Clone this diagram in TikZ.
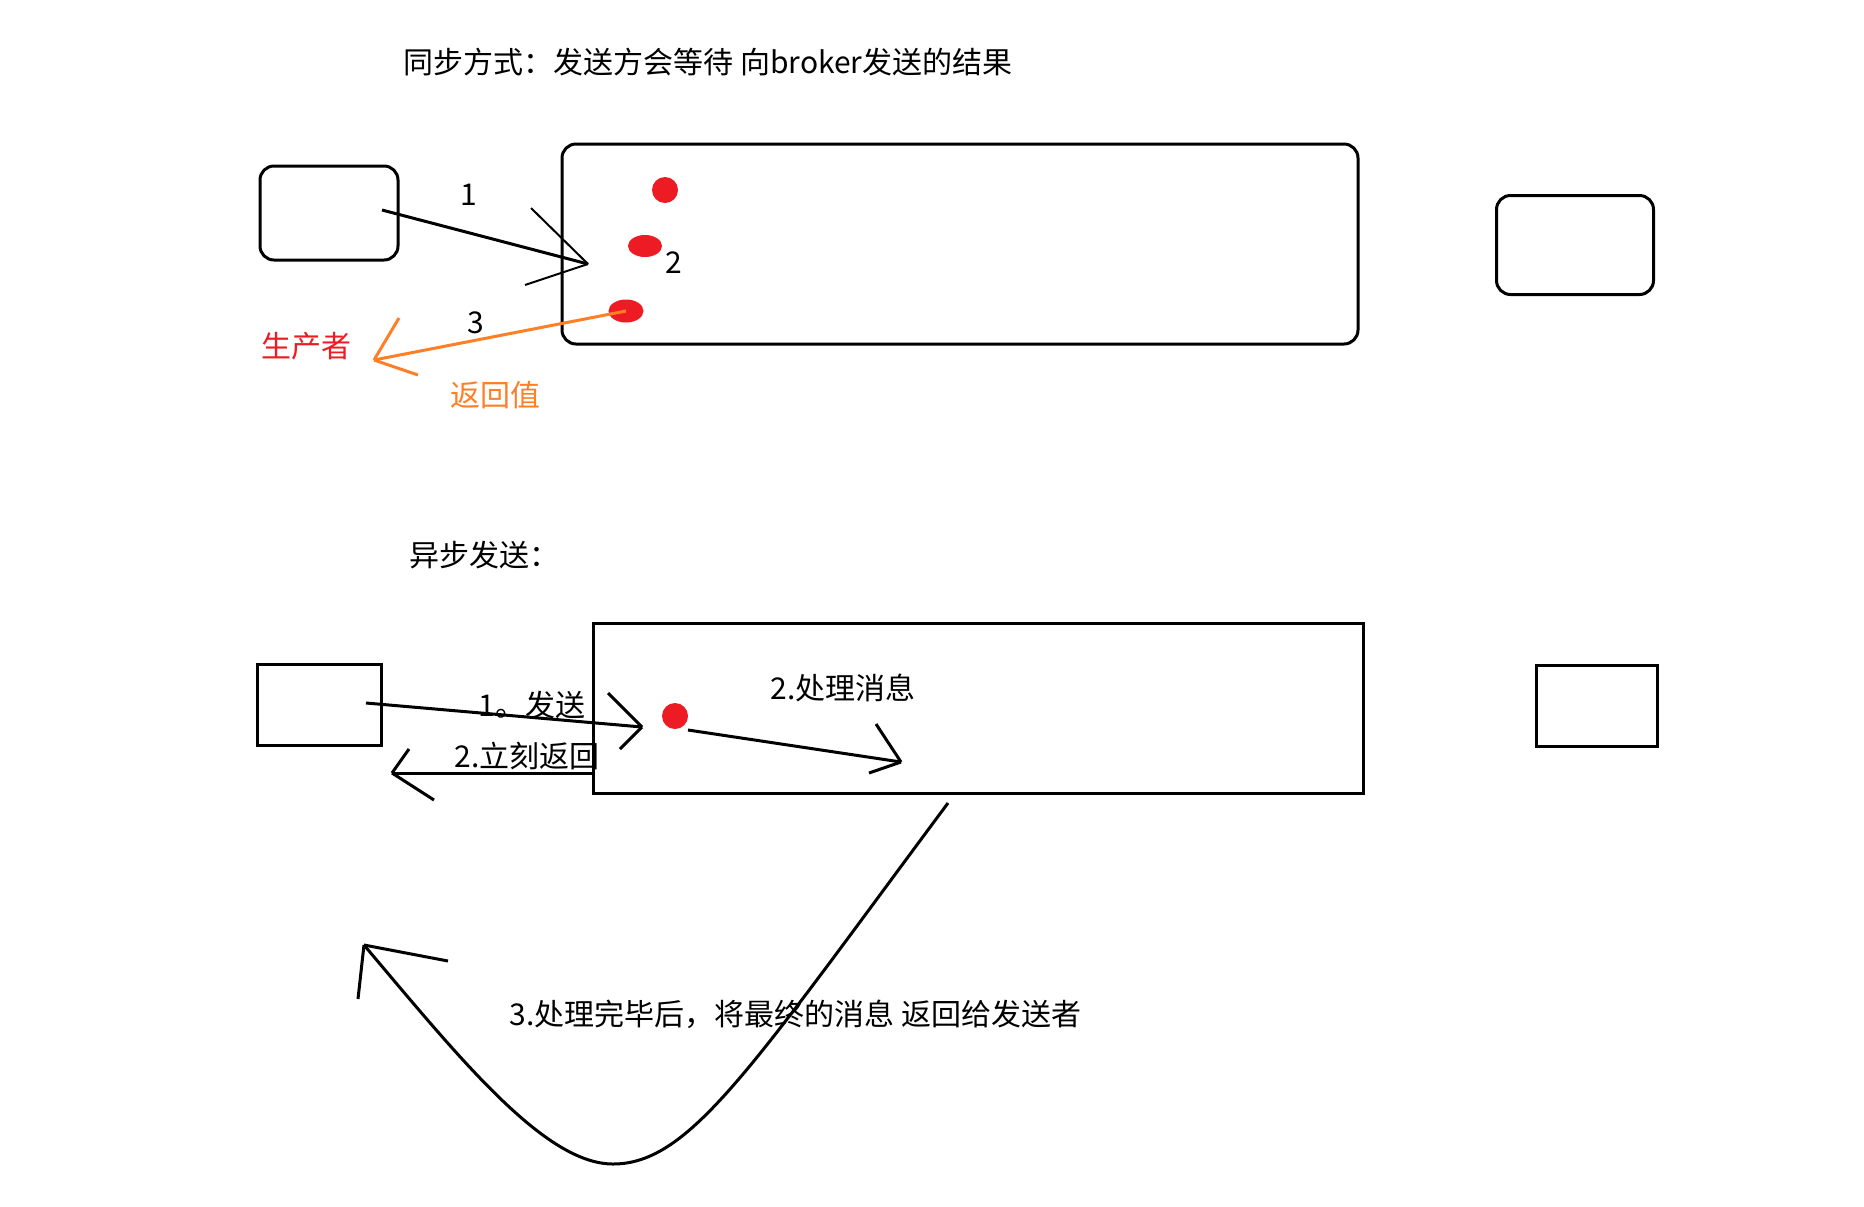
\documentclass[tikz,border=0pt]{standalone}
\usepackage{fontspec}
\setmainfont{Noto Sans CJK SC}
\usepackage{tikz}
\usetikzlibrary{positioning, shapes.geometric}
\definecolor{dotred}{RGB}{237,28,36}
\definecolor{retorange}{RGB}{255,127,39}

\begin{document}
\begin{tikzpicture}[x=0.5pt, y=-0.5pt, line width=1.5pt,
    rbox/.style={draw, rounded corners=7pt, inner sep=0pt},
    pbox/.style={draw, inner sep=0pt},
    msg/.style={circle, fill=dotred, inner sep=0pt},
    txt/.style={font=\fontsize{15}{18}\selectfont, inner sep=0pt}]
      \useasboundingbox (0,0) rectangle (1864,1206);

      % Sincrono
      \node[txt, anchor=west] (titleA) at (402,62) {同步方式：发送方会等待 向broker发送的结果};
      \node[rbox, minimum width=69pt, minimum height=47pt] (prodA) at (329,213) {};
      \node[rbox, minimum width=398pt, minimum height=100pt] (brokerA) at (960,244) {};
      \node[rbox, minimum width=78.5pt, minimum height=49.5pt] (consA) at (1575,245) {};
      \node[msg, minimum size=13pt] (mA1) at (665,190) {};
      \node[msg, ellipse, minimum width=17pt, minimum height=11pt] (mA2) at (645,246) {};
      \node[msg, ellipse, minimum width=17.5pt, minimum height=11.5pt] (mA3) at (626,311) {};

      \coordinate (sA) at (382,210);
      \coordinate (tA) at (588,264);
      \coordinate (rA) at (374,360);
      \draw (sA) -- (tA);
      \draw[line width=1pt] (tA) -- +(-57,-56) (tA) -- +(-63,21);
      \draw[retorange] (mA3.center) -- (rA);
      \draw[retorange] (rA) -- +(25,-42) (rA) -- +(44,15);

      \node[txt] (n1) at (469,195) {1};
      \node[txt] (n2) at (674,263) {2};
      \node[txt] (n3) at (476,323) {3};
      \node[txt, text=dotred] (prod) at (306,346) {生产者};
      \node[txt, text=retorange] (retval) at (495,395) {返回值};

      % Asincrono
      \node[txt, anchor=west] (titleB) at (408,555) {异步发送：};
      \node[pbox, minimum width=62pt, minimum height=40.5pt] (prodB) at (319,705) {};
      \node[pbox, minimum width=385pt, minimum height=85pt] (brokerB) at (978,708) {};
      \node[pbox, minimum width=60.5pt, minimum height=40.5pt] (consB) at (1597,706) {};
      \node[msg, minimum size=13pt] (mB) at (675,716) {};

      \coordinate (sB) at (366,703);
      \coordinate (tB) at (642,727);
      \coordinate (sP) at (688,730);
      \coordinate (tP) at (901,762);
      \coordinate (rB) at (392,773);
      \draw (sB) -- (tB);
      \draw (tB) -- +(-34,-34) (tB) -- +(-22,22);
      \draw (sP) -- (tP);
      \draw (tP) -- +(-25,-38) (tP) -- +(-32,11);
      \draw (brokerB.west |- rB) -- (rB);
      \draw (rB) -- +(17,-24) (rB) -- +(42,27);

      \node[txt, anchor=west] (send) at (477,705) {1。发送};
      \node[txt, anchor=west] (proc) at (769,688) {2.处理消息};
      \node[txt, anchor=west] (ret) at (453,756) {2.立刻返回};

      % Ritorno finale
      \coordinate (cS) at (948,803);
      \coordinate (cB) at (613,1164);
      \coordinate (cT) at (364,945);
      \draw (cS) .. controls (751,1068) and (690,1164) .. (cB)
                 .. controls (545,1164) and (461,1060) .. (cT);
      \draw (cT) -- +(-6,54) (cT) -- +(84,16);
      \node[txt, anchor=west] (done) at (508,1014) {3.处理完毕后，将最终的消息 返回给发送者};
    \end{tikzpicture}
\end{document}
